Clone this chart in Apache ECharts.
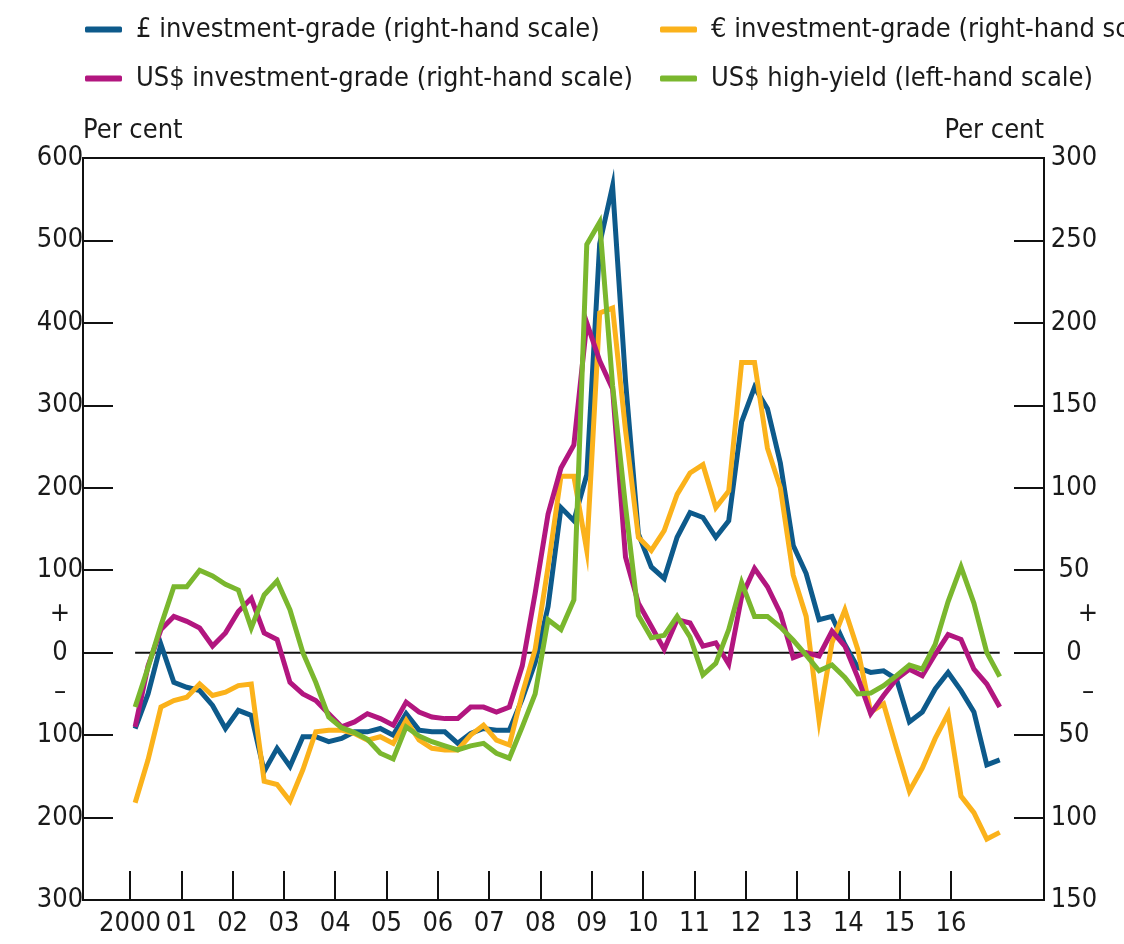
<!DOCTYPE html>
<html><head><meta charset="utf-8">
<script src="https://cdn.jsdelivr.net/npm/echarts@6/dist/echarts.min.js"></script>
<style>html,body{margin:0;padding:0;background:#fff}#c{width:1124px;height:944px}</style>
</head><body><div id="c"></div><script>
const FONT = '"DejaVu Sans Condensed","Liberation Sans Narrow","Open Sans",sans-serif';
const seriesNames = ['£ investment-grade (right-hand scale)', '€ investment-grade (right-hand scale)', 'US$ investment-grade (right-hand scale)', 'US$ high-yield (left-hand scale)'];
const yearTicks = [2000,2001,2002,2003,2004,2005,2006,2007,2008,2009,2010,2011,2012,2013,2014,2015,2016];
const yearLabels = ['2000','01','02','03','04','05','06','07','08','09','10','11','12','13','14','15','16'];
const startDate = 2000.1, endDate = 2016.95;
const gbpIG = [-46,-25,5,-18,-21,-23,-32,-46,-35,-38,-72,-58,-69,-51,-51,-54,-52,-48,-48,-46,-50,-37,-47,-48,-48,-55,-49,-46,-47,-47,-28,-6,28,88,80,108,248,283,165,72,52,45,70,85,82,70,80,140,161,148,115,65,48,20,22,5,-9,-12,-11,-16,-42,-36,-22,-12,-23,-36,-68,-65];
const eurIG = [-91,-65,-33,-29,-27,-19,-26,-24,-20,-19,-78,-80,-90,-71,-48,-47,-47,-49,-53,-51,-55,-41,-53,-58,-59,-59,-50,-44,-53,-56,-25,2,52,107,107,62,206,209,135,70,62,74,96,109,114,88,98,176,176,124,100,47,22,-41,6,26,2,-36,-31,-58,-84,-70,-52,-37,-87,-97,-113,-109];
const usdIG = [-45,-8,14,22,19,15,4,12,25,33,12,8,-18,-25,-29,-37,-45,-42,-37,-40,-44,-30,-36,-39,-40,-40,-33,-33,-36,-33,-8,36,84,112,126,200,177,160,58,30,16,2,20,18,4,6,-7,34,51,40,24,-3,0,-2,13,4,-15,-37,-26,-16,-10,-14,-1,11,8,-10,-19,-33];
const usdHY = [-66,-18,33,80,80,100,93,83,76,30,70,87,52,0,-36,-78,-91,-97,-105,-122,-129,-90,-101,-108,-113,-118,-113,-110,-122,-128,-90,-50,40,28,64,495,522,324,178,45,18,21,44,19,-27,-13,28,85,44,44,31,15,-3,-22,-15,-30,-50,-49,-40,-28,-15,-20,10,62,104,60,0,-29];
const colors = ['#0D5A8B','#FBB21B','#B2167F','#7AB72E'];

const n = gbpIG.length;
const dates = gbpIG.map((_, i) => startDate + i * (endDate - startDate) / (n - 1));
const pair = arr => arr.map((v, i) => [dates[i], v]);

const chart = echarts.init(document.getElementById('c'));
const txt = {fontFamily: FONT, fontSize: 27, color: '#1a1a1a'};
const lineS = (name, data, yi, col) => ({
  name, type: 'line', data: pair(data), yAxisIndex: yi, showSymbol: false, symbol: 'none',
  lineStyle: {color: col, width: 5, join: 'miter'}, itemStyle: {color: col}, z: 3, animation: false
});
const legendBase = {orient: 'vertical', top: 16, padding: 0, itemGap: 22, itemWidth: 37, itemHeight: 6, icon: 'roundRect',
  textStyle: Object.assign({padding: [0,0,0,9]}, txt)};
chart.setOption({
  animation: false,
  color: colors,
  grid: {left: 83, right: 80, top: 158, bottom: 44, show: true, borderColor: '#111', borderWidth: 2},
  legend: [
    Object.assign({left: 85, data: [seriesNames[0], seriesNames[2]]}, legendBase),
    Object.assign({left: 660, data: [seriesNames[1], seriesNames[3]]}, legendBase)
  ],
  xAxis: {
    type: 'value', min: 1999.084, max: 2017.813,
    axisLine: {onZero: false, lineStyle: {color: '#111', width: 2}},
    axisTick: {inside: true, length: 29, lineStyle: {color: '#111', width: 2}, customValues: yearTicks},
    axisLabel: Object.assign({margin: 10, customValues: yearTicks,
      formatter: v => yearLabels[yearTicks.indexOf(Math.round(v))] || ''}, txt),
    splitLine: {show: false}
  },
  yAxis: [
    {type: 'value', position: 'left', min: -300, max: 600, interval: 100,
     name: 'Per cent', nameLocation: 'end', nameGap: 27,
     nameTextStyle: Object.assign({align: 'left', verticalAlign: 'middle'}, txt),
     axisLine: {show: true, lineStyle: {color: '#111', width: 2}},
     axisTick: {show: true, inside: true, length: 30, lineStyle: {color: '#111', width: 2}},
     axisLabel: Object.assign({align: 'center', margin: 23, formatter: v => String(Math.abs(v))}, txt),
     splitLine: {show: false}},
    {type: 'value', position: 'right', min: -150, max: 300, interval: 50,
     name: 'Per cent', nameLocation: 'end', nameGap: 27,
     nameTextStyle: Object.assign({align: 'right', verticalAlign: 'middle'}, txt),
     axisLine: {show: true, lineStyle: {color: '#111', width: 2}},
     axisTick: {show: true, inside: true, length: 30, lineStyle: {color: '#111', width: 2}},
     axisLabel: Object.assign({align: 'center', margin: 30, formatter: v => String(Math.abs(v))}, txt),
     splitLine: {show: false}}
  ],
  series: [
    {name: 'zero', type: 'line', data: [[dates[0], 0], [dates[n-1], 0]], yAxisIndex: 0, symbol: 'none',
     lineStyle: {color: '#111', width: 2}, z: 2, silent: true},
    lineS(seriesNames[0], gbpIG, 1, colors[0]),
    lineS(seriesNames[1], eurIG, 1, colors[1]),
    lineS(seriesNames[2], usdIG, 1, colors[2]),
    lineS(seriesNames[3], usdHY, 0, colors[3])
  ]
});
const yPlus = chart.convertToPixel({yAxisIndex: 0}, 50);
const yMinus = chart.convertToPixel({yAxisIndex: 0}, -50);
const sign = (x, y, s) => ({type: 'text', x, y, style: {text: s, font: '27px ' + FONT, fill: '#1a1a1a', align: 'center', verticalAlign: 'middle'}});
chart.setOption({graphic: [sign(60, yPlus + 3, '+'), sign(60, yMinus - 2, '–'), sign(1088, yPlus + 3, '+'), sign(1088, yMinus - 2, '–')]});
</script></body></html>
